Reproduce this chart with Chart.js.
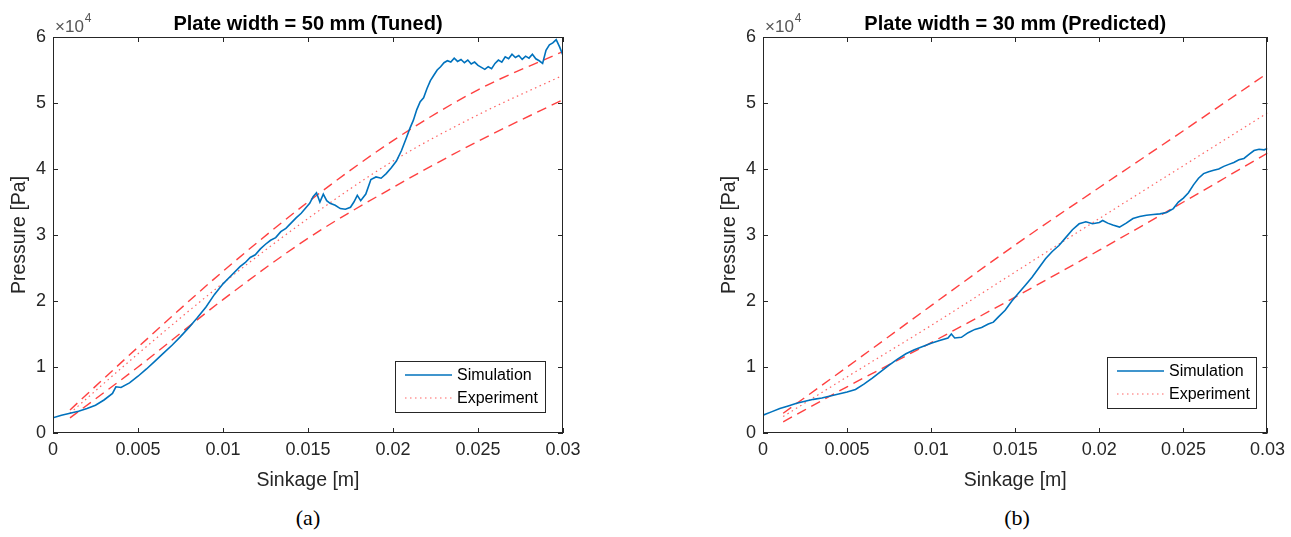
<!DOCTYPE html>
<html>
<head>
<meta charset="utf-8">
<script src="https://cdn.jsdelivr.net/npm/chart.js@4.4.1/dist/chart.umd.min.js"></script>
<style>
body { margin: 0; background: #fff; width: 1291px; height: 537px; overflow: hidden; position: relative; }
.plot { position: absolute; top: 0; }
.cap { position: absolute; top: 505px; font-family: "Liberation Serif", "DejaVu Serif", serif; font-size: 22px; color: #000; transform: translateX(-50%); }
</style>
</head>
<body>
<canvas id="chartA" class="plot" style="left:0px" width="600" height="500"></canvas>
<canvas id="chartB" class="plot" style="left:710px" width="581" height="500"></canvas>
<div class="cap" style="left:308px">(a)</div>
<div class="cap" style="left:1017px">(b)</div>
<script>
// pressures are in units of 10^4 Pa, sinkage in m

// (a) plate width 50 mm
var simSinkA = [0, .0005, .001, .0015, .002, .0025, .003, .0035, .0037, .004, .0045, .005, .0055, .006, .0065, .007, .0075, .008, .0085, .009, .0095, .01, .0105, .011, .0113, .0116, .0119, .0122, .0125, .0128, .0131, .0134, .0137, .014, .0143, .0146, .0149, .0151, .0153, .0155, .0157, .0159, .0161, .0163, .0166, .0169, .0172, .0175, .0177, .0179, .0181, .0184, .0187, .019, .0193, .0196, .0199, .0202, .0205, .0208, .021, .0212, .0214, .0216, .0218, .022, .0222, .0224, .0226, .0228, .023, .0232, .0234, .0236, .0238, .024, .0242, .0244, .0246, .0248, .025, .0252, .0254, .0256, .0258, .026, .0262, .0264, .0266, .0268, .027, .0272, .0274, .0276, .0278, .028, .0282, .0284, .0286, .0288, .029, .0292, .0294, .0296, .0298, .03];
var simPresA = [.23, .27, .30, .33, .37, .42, .50, .60, .70, .69, .76, .86, .97, 1.09, 1.21, 1.33, 1.46, 1.60, 1.75, 1.91, 2.10, 2.26, 2.39, 2.52, 2.58, 2.66, 2.70, 2.79, 2.86, 2.92, 2.96, 3.05, 3.10, 3.18, 3.26, 3.33, 3.42, 3.48, 3.58, 3.64, 3.50, 3.62, 3.52, 3.48, 3.45, 3.40, 3.39, 3.42, 3.50, 3.60, 3.52, 3.62, 3.84, 3.88, 3.86, 3.93, 4.02, 4.12, 4.28, 4.48, 4.62, 4.74, 4.90, 5.02, 5.08, 5.22, 5.34, 5.42, 5.50, 5.55, 5.61, 5.64, 5.62, 5.68, 5.63, 5.66, 5.61, 5.65, 5.59, 5.62, 5.57, 5.54, 5.51, 5.55, 5.52, 5.60, 5.65, 5.62, 5.70, 5.67, 5.74, 5.69, 5.72, 5.66, 5.71, 5.68, 5.74, 5.67, 5.64, 5.60, 5.80, 5.88, 5.91, 5.96, 5.85, 5.72];
var expSinkA = [.001, .005, .01, .015, .02, .025, .03];
var expUpperA = [.35, 1.30, 2.45, 3.50, 4.43, 5.20, 5.78];
var expMeanA = [.30, 1.20, 2.27, 3.25, 4.12, 4.82, 5.42];
var expLowerA = [.23, 1.00, 2.02, 2.95, 3.72, 4.42, 5.05];

// (b) plate width 30 mm
var simSinkB = [0, .0005, .001, .0015, .002, .0025, .003, .0035, .004, .0045, .005, .0055, .006, .0065, .007, .0075, .008, .0085, .009, .0095, .01, .0105, .011, .0112, .0114, .0118, .0122, .0126, .013, .0134, .0137, .014, .0144, .0148, .0152, .0156, .016, .0164, .0168, .0172, .0176, .018, .0184, .0188, .0192, .0196, .02, .0202, .0205, .0208, .0212, .0216, .022, .0224, .0228, .0232, .0236, .024, .0244, .0247, .025, .0253, .0256, .0259, .0262, .0265, .0268, .0271, .0274, .0277, .028, .0283, .0286, .0289, .0292, .0295, .0298, .03];
var simPresB = [.27, .32, .37, .41, .45, .48, .51, .53, .56, .59, .62, .66, .74, .83, .93, 1.03, 1.12, 1.20, 1.26, 1.31, 1.36, 1.40, 1.44, 1.50, 1.44, 1.45, 1.52, 1.57, 1.60, 1.65, 1.68, 1.76, 1.86, 2.00, 2.12, 2.24, 2.36, 2.50, 2.64, 2.75, 2.84, 2.96, 3.08, 3.17, 3.20, 3.17, 3.19, 3.22, 3.18, 3.15, 3.12, 3.18, 3.25, 3.28, 3.30, 3.31, 3.32, 3.34, 3.40, 3.50, 3.56, 3.64, 3.76, 3.86, 3.93, 3.96, 3.98, 4.00, 4.04, 4.07, 4.10, 4.14, 4.16, 4.22, 4.28, 4.30, 4.29, 4.31];
var expSinkB = [.0012, .005, .01, .015, .02, .025, .03];
var expUpperB = [.30, 1.00, 1.93, 2.85, 3.72, 4.58, 5.45];
var expMeanB = [.25, .85, 1.63, 2.44, 3.25, 4.05, 4.85];
var expLowerB = [.17, .70, 1.37, 2.06, 2.77, 3.50, 4.24];

var xTicks = [0, 0.005, 0.01, 0.015, 0.02, 0.025, 0.03];
var yTicks = [0, 1, 2, 3, 4, 5, 6];

var FONT = '"Liberation Sans", Arial, sans-serif';
var GREY = '#262626';

function pts(xs, ys) {
    return xs.map((v, i) => ({x: v, y: ys[i]}));
}

// MATLAB-ish box, inward ticks, titles and boxed legend
const matlabLook = {
    id: 'matlabLook',
    afterDraw(chart, args, o) {
        const ctx = chart.ctx, a = chart.chartArea;
        const xs = chart.scales.x, ys = chart.scales.y;
        ctx.save();
        ctx.strokeStyle = GREY;
        ctx.lineWidth = 1;
        ctx.strokeRect(Math.round(a.left) + .5, Math.round(a.top) + .5, Math.round(a.width) - 1, Math.round(a.height) - 1);
        ctx.beginPath();
        xTicks.forEach(t => {
            const px = Math.round(xs.getPixelForValue(t)) + .5;
            ctx.moveTo(px, a.bottom); ctx.lineTo(px, a.bottom - 5);
            ctx.moveTo(px, a.top); ctx.lineTo(px, a.top + 5);
        });
        yTicks.forEach(t => {
            const py = Math.round(ys.getPixelForValue(t)) + .5;
            ctx.moveTo(a.left, py); ctx.lineTo(a.left + 5, py);
            ctx.moveTo(a.right, py); ctx.lineTo(a.right - 5, py);
        });
        ctx.stroke();

        const cx = (a.left + a.right) / 2;
        ctx.fillStyle = '#000';
        ctx.textAlign = 'center';
        ctx.textBaseline = 'alphabetic';
        ctx.font = 'bold 20px ' + FONT;
        ctx.fillText(o.title, cx, 30);

        ctx.fillStyle = GREY;
        ctx.textBaseline = 'middle';
        ctx.font = '19.5px ' + FONT;
        ctx.fillText('Sinkage [m]', cx, 481);
        ctx.save();
        ctx.translate(20, (a.top + a.bottom) / 2);
        ctx.rotate(-Math.PI / 2);
        ctx.fillText('Pressure [Pa]', 0, 0);
        ctx.restore();

        // exponent label
        ctx.fillStyle = '#555';
        ctx.textAlign = 'left';
        ctx.textBaseline = 'alphabetic';
        ctx.font = '17px ' + FONT;
        ctx.fillText('\u00d710', a.left + 2, 32);
        const w = ctx.measureText('\u00d710').width;
        ctx.font = '12px ' + FONT;
        ctx.fillText('4', a.left + 3 + w, 22);

        // legend
        const L = o.legend;
        ctx.fillStyle = '#fff';
        ctx.fillRect(L.x, L.y, L.w, L.h);
        ctx.strokeStyle = GREY;
        ctx.lineWidth = 1;
        ctx.strokeRect(L.x + .5, L.y + .5, L.w, L.h);
        const items = [chart.data.datasets[0], chart.data.datasets[2]];
        ctx.font = '16px ' + FONT;
        ctx.textBaseline = 'middle';
        items.forEach((ds, i) => {
            const yy = L.y + 14 + i * 23;
            ctx.strokeStyle = ds.borderColor;
            ctx.lineWidth = Math.min(ds.borderWidth, 1.3);
            ctx.setLineDash(ds.borderDash || []);
            ctx.beginPath();
            ctx.moveTo(L.x + 10, yy); ctx.lineTo(L.x + 57, yy);
            ctx.stroke();
            ctx.setLineDash([]);
            ctx.fillStyle = '#000';
            ctx.fillText(ds.label, L.x + 62, yy + 1);
        });
        ctx.restore();
    }
};

function makeChart(id, title, sinkSim, presSim, sinkExp, up, mean, low, padRight, legend) {
    var dashed = {borderColor: 'rgba(255, 30, 30, 0.85)', borderWidth: 1.4, borderDash: [10, 6], pointRadius: 0, cubicInterpolationMode: 'monotone'};
    return new Chart(document.getElementById(id), {
        type: 'line',
        data: {
            datasets: [
                {label: 'Simulation', data: pts(sinkSim, presSim), borderColor: '#0072BD', borderWidth: 1.6, pointRadius: 0, tension: 0},
                Object.assign({label: 'upper', data: pts(sinkExp, up)}, dashed),
                {label: 'Experiment', data: pts(sinkExp, mean), borderColor: 'rgba(255, 60, 60, 0.8)', borderWidth: 1.2, borderDash: [1.5, 3.5], pointRadius: 0, cubicInterpolationMode: 'monotone'},
                Object.assign({label: 'lower', data: pts(sinkExp, low)}, dashed)
            ]
        },
        options: {
            responsive: false,
            animation: false,
            layout: {padding: {left: 0, right: padRight, top: 37, bottom: 0}},
            scales: {
                x: {
                    type: 'linear', min: 0, max: 0.03,
                    afterBuildTicks: s => { s.ticks = xTicks.map(v => ({value: v})); },
                    afterFit: s => { s.height = 67; },
                    ticks: {color: GREY, font: {size: 18, family: FONT}, padding: 6, maxRotation: 0,
                        callback: v => String(+v.toFixed(4))},
                    grid: {display: false, drawTicks: false},
                    border: {display: false}
                },
                y: {
                    min: 0, max: 6,
                    afterBuildTicks: s => { s.ticks = yTicks.map(v => ({value: v})); },
                    afterFit: s => { s.width = 53; },
                    ticks: {color: GREY, font: {size: 18, family: FONT}, padding: 7},
                    grid: {display: false, drawTicks: false},
                    border: {display: false}
                }
            },
            plugins: {
                legend: {display: false},
                tooltip: {enabled: false},
                matlabLook: {title: title, legend: legend}
            }
        },
        plugins: [matlabLook]
    });
}

makeChart('chartA', 'Plate width = 50 mm (Tuned)', simSinkA, simPresA, expSinkA, expUpperA, expMeanA, expLowerA,
    37, {x: 395, y: 361, w: 150, h: 51});
makeChart('chartB', 'Plate width = 30 mm (Predicted)', simSinkB, simPresB, expSinkB, expUpperB, expMeanB, expLowerB,
    20, {x: 397, y: 357, w: 149, h: 51});
</script>
</body>
</html>
